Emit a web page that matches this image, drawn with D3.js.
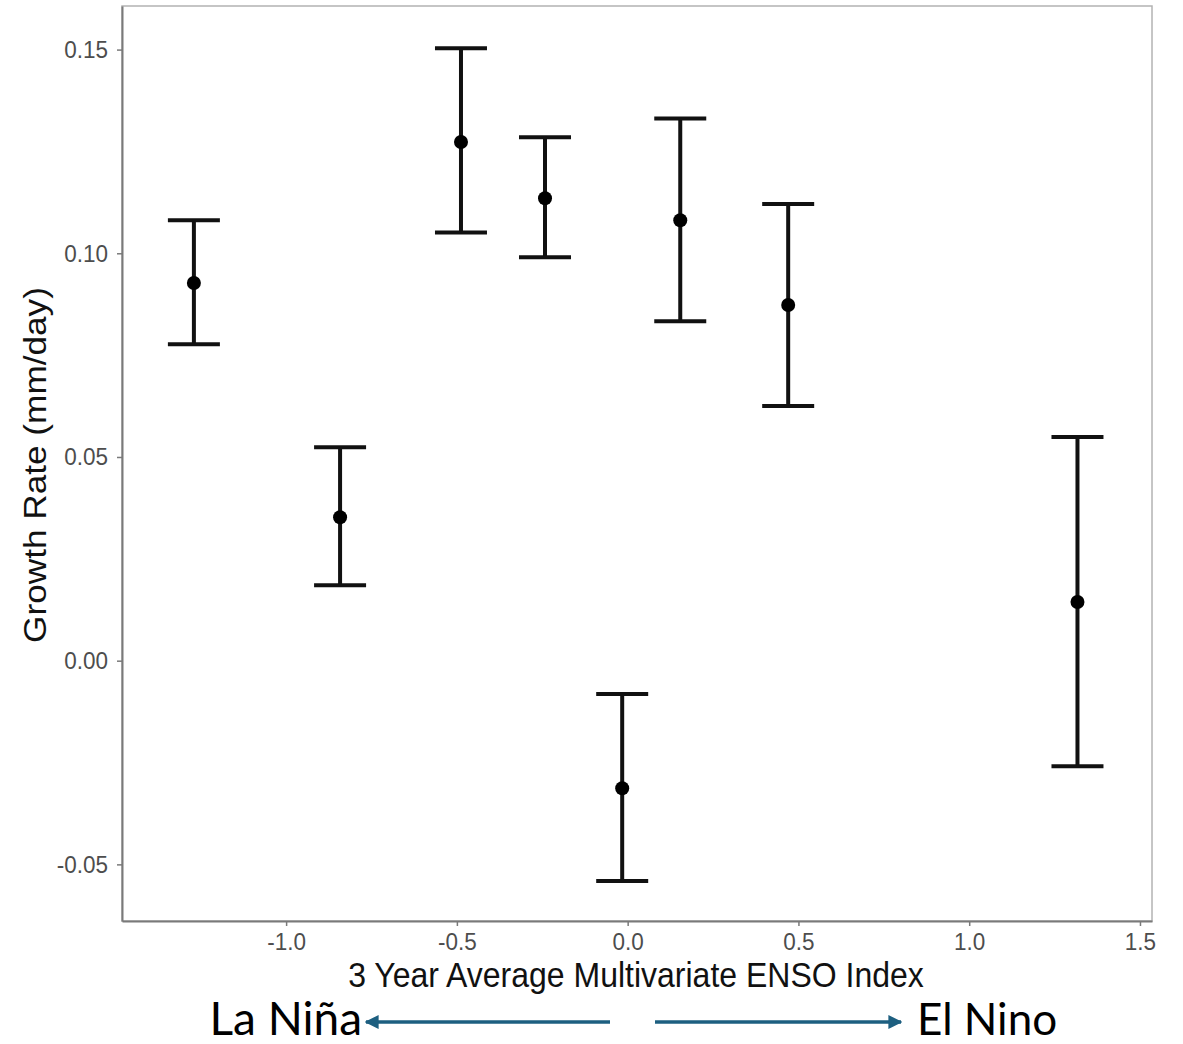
<!DOCTYPE html>
<html>
<head>
<meta charset="utf-8">
<script src="https://cdn.jsdelivr.net/npm/d3@7"></script>
<style>
  body { margin: 0; background: #fff; }
  svg { display: block; }
</style>
</head>
<body>
<svg id="chart"></svg>
<script>
// data
var ensoIndex  = [-1.27, -0.842, -0.488, -0.242, -0.016, 0.154, 0.470, 1.317];
var growthMean = [0.0927, 0.0352, 0.1273, 0.1135, -0.0313, 0.1081, 0.0873, 0.0144];
var growthUpper = [0.1081, 0.0524, 0.1503, 0.1285, -0.0082, 0.1331, 0.1121, 0.0549];
var growthLower = [0.0777, 0.0185, 0.1051, 0.0990, -0.0541, 0.0833, 0.0625, -0.0259];
var xTicks = [-1.0, -0.5, 0.0, 0.5, 1.0, 1.5];
var yTicks = [-0.05, 0.00, 0.05, 0.10, 0.15];

var W = 1183, H = 1044;
var margin = {top: 6, right: 31, bottom: 123, left: 122},
    width = W - margin.left - margin.right,
    height = H - margin.top - margin.bottom;

var svg = d3.select("#chart").attr("width", W).attr("height", H);
var g = svg.append("g")
  .attr("transform", "translate(" + margin.left + "," + margin.top + ")");

// scales (domain fit to the panel edges)
var x = d3.scaleLinear()
  .domain([-1.4805, 1.5352])
  .range([0, width]);
var y = d3.scaleLinear()
  .domain([-0.0639, 0.1607])
  .range([height, 0]);

var data = ensoIndex.map(function(v, i) {
  return {x: v, m: growthMean[i], hi: growthUpper[i], lo: growthLower[i]};
});

// plain hyphen instead of unicode minus, like the original
function fmt(p) {
  var f = d3.format("." + p + "f");
  return function(d) { return f(d).replace("\u2212", "-"); };
}

// panel border (light on top / right)
g.append("rect")
  .attr("x", 0).attr("y", 0)
  .attr("width", width).attr("height", height)
  .attr("fill", "none")
  .attr("stroke", "#b3b3b3")
  .attr("stroke-width", 1.5);

// axes
var xAxis = g.append("g")
  .attr("transform", "translate(0," + height + ")")
  .call(d3.axisBottom(x).tickValues(xTicks).tickFormat(fmt(1))
    .tickSize(5).tickSizeOuter(0).tickPadding(5));
var yAxis = g.append("g")
  .call(d3.axisLeft(y).tickValues(yTicks).tickFormat(fmt(2))
    .tickSize(5).tickSizeOuter(0).tickPadding(9));

[xAxis, yAxis].forEach(function(a) {
  a.select(".domain").attr("stroke", "#7a7a7a").attr("stroke-width", 2);
  a.selectAll(".tick line").attr("stroke", "#7a7a7a").attr("stroke-width", 1.5);
  a.selectAll(".tick text")
    .attr("fill", "#4d4d4d")
    .attr("transform", "scale(1,1.1)")
    .style("font-family", "'Liberation Sans', Arial, sans-serif")
    .style("font-size", "22.5px");
});

// error bars
var capHalf = 26;
var bars = g.append("g").selectAll("g.bar")
  .data(data)
  .enter()
  .append("g").attr("class", "bar");

bars.append("line")
  .attr("x1", function(d) { return x(d.x); })
  .attr("x2", function(d) { return x(d.x); })
  .attr("y1", function(d) { return y(d.hi); })
  .attr("y2", function(d) { return y(d.lo); })
  .attr("stroke", "#111").attr("stroke-width", 4);
bars.append("line")
  .attr("x1", function(d) { return x(d.x) - capHalf; })
  .attr("x2", function(d) { return x(d.x) + capHalf; })
  .attr("y1", function(d) { return y(d.hi); })
  .attr("y2", function(d) { return y(d.hi); })
  .attr("stroke", "#111").attr("stroke-width", 4);
bars.append("line")
  .attr("x1", function(d) { return x(d.x) - capHalf; })
  .attr("x2", function(d) { return x(d.x) + capHalf; })
  .attr("y1", function(d) { return y(d.lo); })
  .attr("y2", function(d) { return y(d.lo); })
  .attr("stroke", "#111").attr("stroke-width", 4);
bars.append("circle")
  .attr("cx", function(d) { return x(d.x); })
  .attr("cy", function(d) { return y(d.m); })
  .attr("r", 7)
  .attr("fill", "#000");

// axis titles (slightly stretched vertically, as in the source image)
svg.append("text")
  .attr("transform", "translate(636,987) scale(1,1.1)")
  .attr("text-anchor", "middle")
  .style("font-family", "'Liberation Sans', Arial, sans-serif")
  .style("font-size", "32px")
  .attr("fill", "#111")
  .text("3 Year Average Multivariate ENSO Index");

svg.append("text")
  .attr("transform", "translate(46,465) scale(1,1.1) rotate(-90)")
  .attr("text-anchor", "middle")
  .style("font-family", "'Liberation Sans', Arial, sans-serif")
  .style("font-size", "32px")
  .attr("fill", "#111")
  .text("Growth Rate (mm/day)");

// La Niña / El Nino annotation
var arrowColor = "#1d5f80";
var defs = svg.append("defs");
defs.append("marker")
  .attr("id", "head")
  .attr("viewBox", "0 0 10 10")
  .attr("refX", 9).attr("refY", 5)
  .attr("markerWidth", 4).attr("markerHeight", 4)
  .attr("orient", "auto-start-reverse")
  .attr("markerUnits", "strokeWidth")
  .append("path")
  .attr("d", "M0,0 L10,5 L0,10 z")
  .attr("fill", arrowColor);

svg.append("line")
  .attr("x1", 610).attr("x2", 366).attr("y1", 1022).attr("y2", 1022)
  .attr("stroke", arrowColor).attr("stroke-width", 3.5)
  .attr("marker-end", "url(#head)");
svg.append("line")
  .attr("x1", 655).attr("x2", 901).attr("y1", 1022).attr("y2", 1022)
  .attr("stroke", arrowColor).attr("stroke-width", 3.5)
  .attr("marker-end", "url(#head)");

svg.append("text")
  .attr("x", 362).attr("y", 1035)
  .attr("text-anchor", "end")
  .style("font-family", "Lato, 'Open Sans', sans-serif")
  .style("font-size", "46px")
  .attr("fill", "#000")
  .text("La Niña");
svg.append("text")
  .attr("x", 917).attr("y", 1035)
  .style("font-family", "Lato, 'Open Sans', sans-serif")
  .style("font-size", "44px")
  .attr("fill", "#000")
  .text("El Nino");
</script>
</body>
</html>
